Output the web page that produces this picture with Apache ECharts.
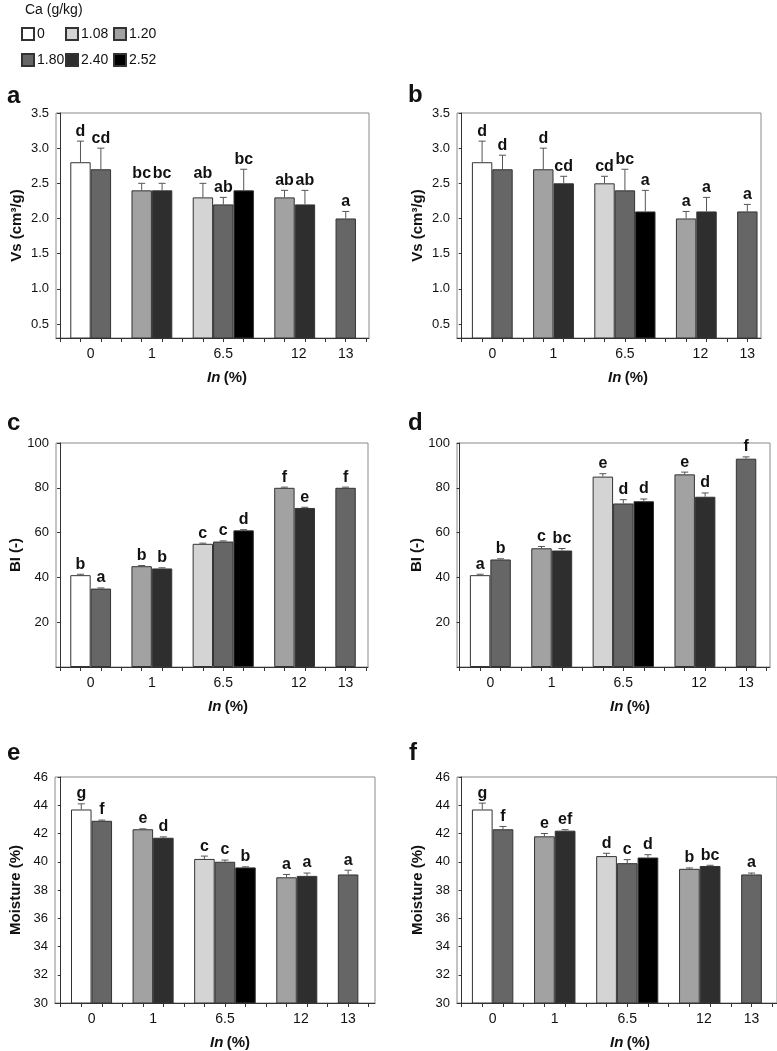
<!DOCTYPE html>
<html><head><meta charset="utf-8">
<script src="https://cdn.jsdelivr.net/npm/echarts@6/dist/echarts.min.js"></script>
<style>html,body{margin:0;padding:0;background:#fff}#c{width:777px;height:1051px}</style>
</head><body><div id="c"></div>
<script>
// ---------- data ----------
const inLevels = ['0', '1', '6.5', '12', '13'];
const caLevels = ['0', '1.08', '1.20', '1.80', '2.40', '2.52'];
// Ca levels present in each In group, in bar order
const groupCa = [['0', '1.80'], ['1.20', '2.40'], ['1.08', '1.80', '2.52'], ['1.20', '2.40'], ['1.80']];
// x-axis label positions (slot units)
const inLabelPos = [1.5, 4.5, 8, 11.7, 14];

// values listed in bar order over all groups
const vsA = [2.8, 2.7, 2.4, 2.4, 2.3, 2.2, 2.4, 2.3, 2.2, 2.0];
const vsAErr = [0.3, 0.3, 0.1, 0.1, 0.2, 0.1, 0.3, 0.1, 0.2, 0.1];
const vsALetters = ['d', 'cd', 'bc', 'bc', 'ab', 'ab', 'bc', 'ab', 'ab', 'a'];

const vsB = [2.8, 2.7, 2.7, 2.5, 2.5, 2.4, 2.1, 2.0, 2.1, 2.1];
const vsBErr = [0.3, 0.2, 0.3, 0.1, 0.1, 0.3, 0.3, 0.1, 0.2, 0.1];
const vsBLetters = ['d', 'd', 'd', 'cd', 'cd', 'bc', 'a', 'a', 'a', 'a'];

const biC = [41, 35, 45, 44, 55, 56, 61, 80, 71, 80];
const biCErr = [0.4, 0.3, 0.3, 0.3, 0.3, 0.3, 0.3, 0.3, 0.3, 0.3];
const biCLetters = ['b', 'a', 'b', 'b', 'c', 'c', 'd', 'f', 'e', 'f'];

const biD = [41, 48, 53, 52, 85, 73, 74, 86, 76, 93];
const biDErr = [0.4, 0.3, 0.8, 0.9, 1.3, 1.7, 1.0, 1.0, 1.7, 0.8];
const biDLetters = ['a', 'b', 'c', 'bc', 'e', 'd', 'd', 'e', 'd', 'f'];

const moE = [43.7, 42.9, 42.3, 41.7, 40.2, 40.0, 39.6, 38.9, 39.0, 39.1];
const moEErr = [0.4, 0.05, 0.03, 0.06, 0.2, 0.12, 0.04, 0.2, 0.2, 0.3];
const moELetters = ['g', 'f', 'e', 'd', 'c', 'c', 'b', 'a', 'a', 'a'];

const moF = [43.7, 42.3, 41.8, 42.2, 40.4, 39.9, 40.3, 39.5, 39.7, 39.1];
const moFErr = [0.45, 0.2, 0.2, 0.07, 0.2, 0.25, 0.2, 0.06, 0.05, 0.1];
const moFLetters = ['g', 'f', 'e', 'ef', 'd', 'c', 'd', 'b', 'bc', 'a'];

const vsTicks = [0.5, 1.0, 1.5, 2.0, 2.5, 3.0, 3.5];
const biTicks = [20, 40, 60, 80, 100];
const moTicks = [30, 32, 34, 36, 38, 40, 42, 44, 46];

// ---------- styling / layout ----------
const FONT = '"Liberation Sans", Arial, Helvetica, sans-serif';
const caColors = {'0': '#ffffff', '1.08': '#d4d4d4', '1.20': '#a2a2a2', '1.80': '#666666', '2.40': '#2e2e2e', '2.52': '#000000'};

const panels = [
  {tag: 'a', vals: vsA, errs: vsAErr, letters: vsALetters, yName: 'Vs (cm³/g)', yMin: 0.3, yMax: 3.5, ticks: vsTicks, dec: 1},
  {tag: 'b', vals: vsB, errs: vsBErr, letters: vsBLetters, yName: 'Vs (cm³/g)', yMin: 0.3, yMax: 3.5, ticks: vsTicks, dec: 1},
  {tag: 'c', vals: biC, errs: biCErr, letters: biCLetters, yName: 'BI (-)', yMin: 0, yMax: 100, ticks: biTicks, dec: 0},
  {tag: 'd', vals: biD, errs: biDErr, letters: biDLetters, yName: 'BI (-)', yMin: 0, yMax: 100, ticks: biTicks, dec: 0},
  {tag: 'e', vals: moE, errs: moEErr, letters: moELetters, yName: 'Moisture (%)', yMin: 30, yMax: 46, ticks: moTicks, dec: 0},
  {tag: 'f', vals: moF, errs: moFErr, letters: moFLetters, yName: 'Moisture (%)', yMin: 30, yMax: 46, ticks: moTicks, dec: 0}
];
const layout = [
  {left: 56, top: 113, width: 313, height: 225, xMin: -0.2, xMax: 15.14, namePad: 29, tagX: 7, tagY: 98},
  {left: 457, top: 113, width: 304, height: 225, xMin: -0.23, xMax: 14.67, namePad: 38, tagX: 408, tagY: 97},
  {left: 56, top: 443, width: 312, height: 224, xMin: -0.2, xMax: 15.1, namePad: 32, tagX: 7, tagY: 425},
  {left: 457, top: 443, width: 313, height: 224, xMin: -0.13, xMax: 15.17, namePad: 33, tagX: 408, tagY: 425},
  {left: 55, top: 777, width: 320, height: 226, xMin: -0.28, xMax: 15.31, namePad: 30, tagX: 7, tagY: 755},
  {left: 457, top: 777, width: 320, height: 226, xMin: -0.22, xMax: 15.23, namePad: 26, tagX: 409, tagY: 755}
];

// slot positions of bars: one empty slot between groups
const barSlots = [], barCa = [];
(function () {
  let s = 1;
  groupCa.forEach(g => { g.forEach(c => { barSlots.push(s); barCa.push(c); s++; }); s++; });
})();
const tickSlots = [];
for (let k = 0; k <= 15; k++) tickSlots.push(k);

const grids = [], xAxes = [], yAxes = [], series = [], graphics = [];

panels.forEach((p, i) => {
  const L = layout[i];
  grids.push({left: L.left, top: L.top, width: L.width, height: L.height, show: true,
    borderColor: '#8a8a8a', borderWidth: 1, backgroundColor: 'transparent'});
  xAxes.push({
    type: 'value', gridIndex: i, min: L.xMin, max: L.xMax,
    axisLine: {show: true, onZero: false, lineStyle: {color: '#333', width: 1}},
    axisTick: {show: true, customValues: tickSlots.filter(t => t >= L.xMin && t <= L.xMax), length: 4, lineStyle: {color: '#333'}},
    axisLabel: {show: true, customValues: inLabelPos, margin: 9, color: '#111', fontSize: 14, fontFamily: FONT,
      formatter: v => { const k = inLabelPos.findIndex(q => Math.abs(q - v) < 1e-6); return k >= 0 ? inLevels[k] : ''; }},
    splitLine: {show: false},
    name: '{i|In} {n|(%)}', nameLocation: 'middle', nameGap: 32,
    nameTextStyle: {padding: [0, 0, 0, L.namePad], rich: {
      i: {fontStyle: 'italic', fontWeight: 'bold', fontSize: 15, fontFamily: FONT, color: '#111'},
      n: {fontWeight: 'bold', fontSize: 15, fontFamily: FONT, color: '#111'}}}
  });
  yAxes.push({
    type: 'value', gridIndex: i, min: p.yMin, max: p.yMax,
    axisLine: {show: true, lineStyle: {color: '#333', width: 1}},
    axisTick: {show: true, customValues: p.ticks, length: 3, lineStyle: {color: '#333'}},
    axisLabel: {show: true, customValues: p.ticks, margin: 7, color: '#111', fontSize: 13, fontFamily: FONT,
      formatter: v => v.toFixed(p.dec)},
    splitLine: {show: false},
    name: p.yName, nameLocation: 'middle', nameGap: 32,
    nameTextStyle: {fontWeight: 'bold', fontSize: 15, fontFamily: FONT, color: '#111'}
  });
  const slotPx = L.width / (L.xMax - L.xMin);
  caLevels.forEach(c => {
    const data = [];
    p.vals.forEach((v, j) => { if (barCa[j] === c) data.push([barSlots[j], v]); });
    series.push({
      type: 'bar', name: c, xAxisIndex: i, yAxisIndex: i, data: data,
      barWidth: slotPx, barGap: '-100%', silent: true, animation: false,
      itemStyle: {color: caColors[c], borderColor: '#333', borderWidth: 1}
    });
  });
  const letters = p.letters;
  series.push({
    type: 'custom', xAxisIndex: i, yAxisIndex: i, silent: true, animation: false, z: 5,
    data: p.vals.map((v, j) => [barSlots[j], v, v + p.errs[j]]),
    encode: {x: 0, y: [1, 2]},
    renderItem: (params, api) => {
      const x = api.value(0), v = api.value(1), t = api.value(2);
      const p0 = api.coord([x, v]), p1 = api.coord([x, t]);
      const cap = 3.5;
      return {type: 'group', children: [
        {type: 'line', shape: {x1: p0[0], y1: p0[1], x2: p1[0], y2: p1[1]}, style: {stroke: '#555', lineWidth: 1}},
        {type: 'line', shape: {x1: p1[0] - cap, y1: p1[1], x2: p1[0] + cap, y2: p1[1]}, style: {stroke: '#555', lineWidth: 1}},
        {type: 'text', x: p1[0], y: p1[1] - 2, style: {text: letters[params.dataIndex],
          font: 'bold 16px ' + FONT, fill: '#111', align: 'center', verticalAlign: 'bottom'}}
      ]};
    }
  });
  graphics.push({type: 'text', left: L.tagX, top: L.tagY - 14, style: {text: p.tag, font: 'bold 24px ' + FONT, fill: '#111'}});
});

graphics.push({type: 'text', left: 25, top: 3, style: {text: 'Ca (g/kg)', font: '14px ' + FONT, fill: '#111'}});

const legendCols = [['0', '1.80'], ['1.08', '2.40'], ['1.20', '2.52']];
const legendLeft = [21, 65, 113];
const legends = legendCols.map((col, k) => ({
  data: col, orient: 'vertical', left: legendLeft[k], top: 27, itemWidth: 12, itemHeight: 12, itemGap: 12,
  icon: 'rect', selectedMode: false, padding: 0,
  textStyle: {fontSize: 14, fontFamily: FONT, color: '#111', padding: [0, 0, 0, -2]}
}));

const chart = echarts.init(document.getElementById('c'), null, {renderer: 'canvas'});
chart.setOption({
  animation: false, backgroundColor: '#fff',
  grid: grids, xAxis: xAxes, yAxis: yAxes, series: series, legend: legends, graphic: graphics
});
</script></body></html>
